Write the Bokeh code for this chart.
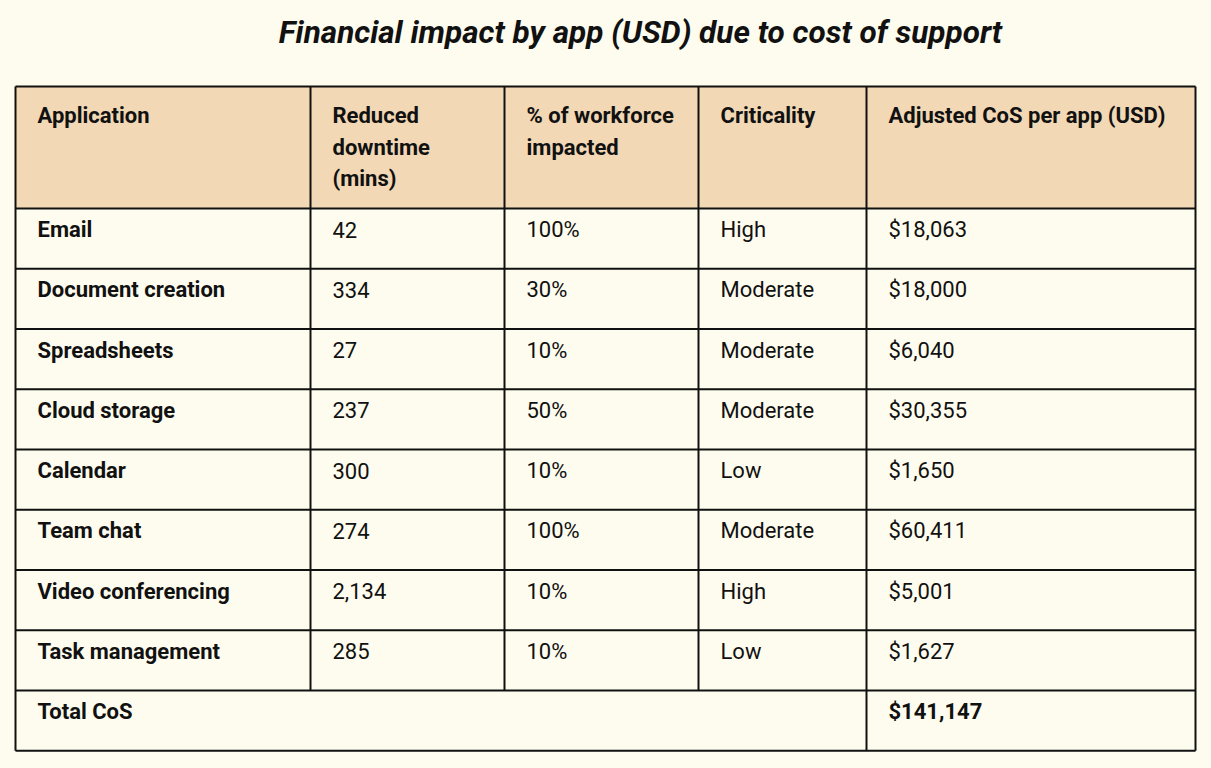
from bokeh.plotting import figure
from bokeh.models import Range1d
from bokeh.embed import file_html
from bokeh.resources import INLINE
from bokeh.core.properties import value

title = "Financial impact by app (USD) due to cost of support"
headers = [
    ["Application"],
    ["Reduced", "downtime", "(mins)"],
    ["% of workforce", "impacted"],
    ["Criticality"],
    ["Adjusted CoS per app (USD)"],
]
applications = ["Email", "Document creation", "Spreadsheets", "Cloud storage",
                "Calendar", "Team chat", "Video conferencing", "Task management"]
downtime = ["42", "334", "27", "237", "300", "274", "2,134", "285"]
workforce = ["100%", "30%", "10%", "50%", "10%", "100%", "10%", "10%"]
criticality = ["High", "Moderate", "Moderate", "Moderate", "Low", "Moderate", "High", "Low"]
cos = ["$18,063", "$18,000", "$6,040", "$30,355", "$1,650", "$60,411", "$5,001", "$1,627"]
total_label = "Total CoS"
total_value = "$141,147"

BG = "#FEFCEE"
HEAD = "#F2D8B5"
FONT = "Roboto"
FS = "22px"

W, H = 1211, 768
p = figure(width=W, height=H, x_range=Range1d(0, W), y_range=Range1d(H, 0),
           output_backend="svg", toolbar_location=None, min_border=0)
p.axis.visible = False
p.grid.visible = False
p.outline_line_color = None
p.background_fill_color = BG
p.border_fill_color = BG

# layout
col_edges = [15, 310, 504, 698, 866, 1195]
top = 86
head_h = 122
row_h = 60.25
n_rows = len(applications) + 1
row_tops = [top + head_h + i * row_h for i in range(n_rows)]
bottom = row_tops[-1] + row_h
pad = 22
title_x = 640

# header fill
p.quad(left=[col_edges[0]], right=[col_edges[-1]], top=[top], bottom=[top + head_h],
       fill_color=HEAD, line_color=None)

# horizontal lines
hy = [top, top + head_h] + row_tops[1:] + [bottom]
p.segment(x0=[col_edges[0]] * len(hy), x1=[col_edges[-1]] * len(hy), y0=hy, y1=hy,
          line_color="#111111", line_width=2)
# vertical lines
vx0, vy0, vy1 = [], [], []
for i, x in enumerate(col_edges):
    vx0.append(x)
    vy0.append(top)
    if i in (0, len(col_edges) - 2, len(col_edges) - 1):
        vy1.append(bottom)
    else:
        vy1.append(row_tops[-1])
p.segment(x0=vx0, x1=vx0, y0=vy0, y1=vy1, line_color="#111111", line_width=2)

# title
p.text(x=[title_x], y=[32], text=[title],
       text_font=value(FONT), text_font_size="31.5px", text_font_style="bold italic",
       text_align="center", text_baseline="middle", text_color="#111111")

# header text
hx, hyy, ht = [], [], []
for c, lines in enumerate(headers):
    for k, line in enumerate(lines):
        hx.append(col_edges[c] + pad)
        hyy.append(top + 29 + k * 31.5)
        ht.append(line)
p.text(x=hx, y=hyy, text=ht, text_font=value(FONT), text_font_size=FS,
       text_font_style="bold", text_align="left", text_baseline="middle", text_color="#111111")

# body
bx, by, bt = [], [], []
nx, ny, nt = [], [], []
for i, app in enumerate(applications):
    yc = row_tops[i] + 21
    bx.append(col_edges[0] + pad); by.append(yc); bt.append(app)
    for c, v in enumerate([downtime[i], workforce[i], criticality[i], cos[i]], start=1):
        nx.append(col_edges[c] + pad); ny.append(yc); nt.append(v)
yc = row_tops[-1] + 21
bx += [col_edges[0] + pad, col_edges[4] + pad]
by += [yc, yc]
bt += [total_label, total_value]

p.text(x=bx, y=by, text=bt, text_font=value(FONT), text_font_size=FS,
       text_font_style="bold", text_align="left", text_baseline="middle", text_color="#111111")
p.text(x=nx, y=ny, text=nt, text_font=value(FONT), text_font_size=FS,
       text_align="left", text_baseline="middle", text_color="#111111")

html = file_html(p, INLINE)
css = "<style>html,body{margin:0 !important;padding:0 !important;background:%s;overflow:hidden;}</style>" % BG
html = html.replace("</head>", css + "</head>", 1)
open("out.html", "w").write(html)
